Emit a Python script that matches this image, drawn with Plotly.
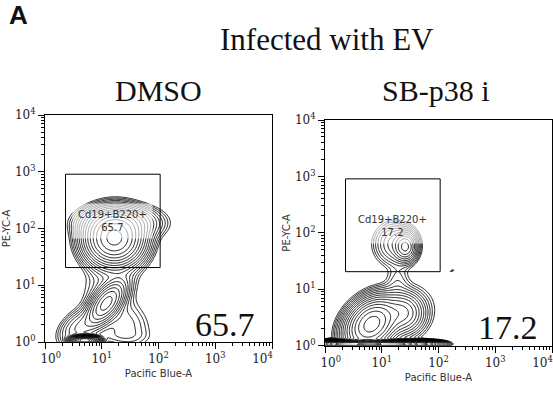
import numpy as np
import plotly.graph_objects as go

# Axis decades and labels (log10 scale, 10^0 .. 10^4)
decade_vals = [1, 10, 100, 1000, 10000]
decade_text = ["10<sup>0</sup>", "10<sup>1</sup>", "10<sup>2</sup>", "10<sup>3</sup>", "10<sup>4</sup>"]
# x labels at the two ends are pulled inside the frame
xdecade_text = ["&nbsp;&nbsp;&nbsp;10<sup>0</sup>", "10<sup>1</sup>", "10<sup>2</sup>",
                "10<sup>3</sup>", "10<sup>4</sup>&nbsp;&nbsp;&nbsp;&nbsp;&nbsp;"]

# Gate: Cd19+B220+ rectangle (data units)
gate_x = [2.3, 107]
gate_y = [20.5, 905]
gate_name = "Cd19+B220+"

# Population components, positions in log10 units:
# centre x, centre y, spread x, spread y, correlation, peak weight
dmso_cx = [1.22, 1.32, 1.15, 1.08, 0.60, 1.45, 1.30, 0.70]
dmso_cy = [1.82, 2.10, 1.00, 0.68, 0.25, 0.30, 0.10, 0.03]
dmso_sx = [0.24, 0.34, 0.30, 0.17, 0.20, 0.25, 0.30, 0.10]
dmso_sy = [0.22, 0.15, 0.50, 0.20, 0.18, 0.25, 0.08, 0.035]
dmso_rho = [0.0, 0.0, 0.3, 0.6, 0.4, -0.2, 0.0, 0.0]
dmso_w = [2.0, 0.3, 0.03, 0.5, 0.08, 0.03, 0.01, 10.0]
dmso_pct = 65.7

sb_cx = [1.25, 1.42, 1.28, 0.82, 1.38, 1.20, 0.30, 0.80, 1.30, 1.80, 2.24]
sb_cy = [1.80, 1.75, 1.15, 0.38, 0.58, 0.50, 0.03, 0.03, 0.03, 0.03, 1.33]
sb_sx = [0.20, 0.10, 0.12, 0.22, 0.18, 0.40, 0.22, 0.22, 0.22, 0.15, 0.04]
sb_sy = [0.20, 0.13, 0.18, 0.22, 0.18, 0.32, 0.03, 0.03, 0.03, 0.03, 0.02]
sb_rho = [0.0, 0.0, 0.0, 0.3, 0.0, 0.3, 0.0, 0.0, 0.0, 0.0, 0.7]
sb_w = [0.10, 0.30, 0.02, 1.50, 0.30, 0.04, 4.0, 5.0, 4.0, 1.0, 0.015]
sb_pct = 17.2

# evaluation grid in log10 space
gx = np.linspace(-0.3, 4.0, 280)
gy = np.linspace(-0.3, 4.0, 280)
GX, GY = np.meshgrid(gx, gy)


def log_density(cx, cy, sx, sy, rho, w):
    d = np.zeros_like(GX)
    for a, b, s1, s2, r, k in zip(cx, cy, sx, sy, rho, w):
        u = (GX - a) / s1
        v = (GY - b) / s2
        q = (u * u - 2 * r * u * v + v * v) / (1 - r * r)
        d += k * np.exp(-0.5 * q)
    return np.log10(d + 1e-12)


panels = [
    dict(name="DMSO", comps=(dmso_cx, dmso_cy, dmso_sx, dmso_sy, dmso_rho, dmso_w), pct=dmso_pct,
         xdom=[45 / 553, 272 / 553], ydom=[1 - 342 / 394, 1 - 115 / 394],
         head_x=158 / 553, pct_x=257 / 553, pct_y=1 - 324 / 394),
    dict(name="SB-p38 i", comps=(sb_cx, sb_cy, sb_sx, sb_sy, sb_rho, sb_w), pct=sb_pct,
         xdom=[325 / 553, 552 / 553], ydom=[1 - 345.7 / 394, 1 - 120 / 394],
         head_x=436 / 553, pct_x=540 / 553, pct_y=1 - 327 / 394),
]

fig = go.Figure()
minor_vals = [m * 10 ** e for e in range(0, 4) for m in range(2, 10)]
titlefont = dict(family="DejaVu Sans", size=10, color="#333")

for i, p in enumerate(panels, start=1):
    xa = "x" if i == 1 else f"x{i}"
    ya = "y" if i == 1 else f"y{i}"
    z = log_density(*p["comps"])
    fig.add_trace(go.Contour(
        x=10 ** gx, y=10 ** gy, z=z, xaxis=xa, yaxis=ya,
        contours=dict(coloring="lines", start=-2.0, end=1.6, size=0.15),
        line=dict(width=0.9, smoothing=1),
        colorscale=[[0, "black"], [1, "black"]],
        showscale=False, hoverinfo="skip",
    ))
    axis_common = dict(
        type="log", range=[0, 4], showgrid=False, zeroline=False,
        showline=True, linecolor="black", linewidth=1, mirror=True,
        ticks="outside", ticklen=6, tickwidth=1, tickcolor="black",
        tickvals=decade_vals, ticklabeloverflow="allow",
        minor=dict(tickvals=minor_vals, ticks="outside", ticklen=3, tickcolor="black", showgrid=False),
        automargin=False,
    )
    fig.update_layout({
        ("xaxis" if i == 1 else f"xaxis{i}"): dict(axis_common, domain=p["xdom"], anchor=ya,
                                                   ticktext=xdecade_text,
                                                   title=dict(text="Pacific Blue-A", font=titlefont, standoff=4)),
        ("yaxis" if i == 1 else f"yaxis{i}"): dict(axis_common, domain=p["ydom"], anchor=xa,
                                                   ticktext=decade_text,
                                                   title=dict(text="PE-YC-A", font=titlefont, standoff=2)),
    })
    # gate rectangle
    fig.add_shape(type="rect", xref=xa, yref=ya, x0=gate_x[0], x1=gate_x[1], y0=gate_y[0], y1=gate_y[1],
                  line=dict(color="black", width=1), fillcolor="rgba(0,0,0,0)")
    # gate label with translucent backing
    fig.add_annotation(xref=xa, yref=ya, x=np.log10(15.3), y=2.13,
                       text=f"{gate_name}<br>{p['pct']}", showarrow=False,
                       font=dict(family="DejaVu Sans", size=10, color="#333"),
                       bgcolor="rgba(255,255,255,0.6)", borderpad=5)
    # large percentage in the corner
    fig.add_annotation(xref="paper", yref="paper", x=p["pct_x"], y=p["pct_y"],
                       xanchor="right", yanchor="middle", text=f"{p['pct']}", showarrow=False,
                       font=dict(family="Liberation Serif", size=34, color="#111"))
    # panel heading
    fig.add_annotation(xref="paper", yref="paper", x=p["head_x"], y=1 - 91 / 394,
                       text=p["name"], showarrow=False, xanchor="center", yanchor="middle",
                       font=dict(family="Liberation Serif", size=30, color="#111"))

# decade labels on all four axes
fig.update_xaxes(tickfont=dict(family="DejaVu Serif", size=12, color="#222"))
fig.update_yaxes(tickfont=dict(family="DejaVu Serif", size=12, color="#222"))

fig.add_annotation(xref="paper", yref="paper", x=327 / 553, y=1 - 39 / 394, text="Infected with EV",
                   showarrow=False, xanchor="center", yanchor="middle",
                   font=dict(family="Liberation Serif", size=31, color="#111"))
fig.add_annotation(xref="paper", yref="paper", x=7 / 553, y=1 - 15 / 394, text="<b>A</b>",
                   showarrow=False, xanchor="left", yanchor="middle",
                   font=dict(family="Liberation Sans", size=26, color="#111"))

fig.update_layout(width=553, height=394, margin=dict(l=0, r=0, t=0, b=0),
                  paper_bgcolor="white", plot_bgcolor="white", showlegend=False)

fig.write_html("out.html")
